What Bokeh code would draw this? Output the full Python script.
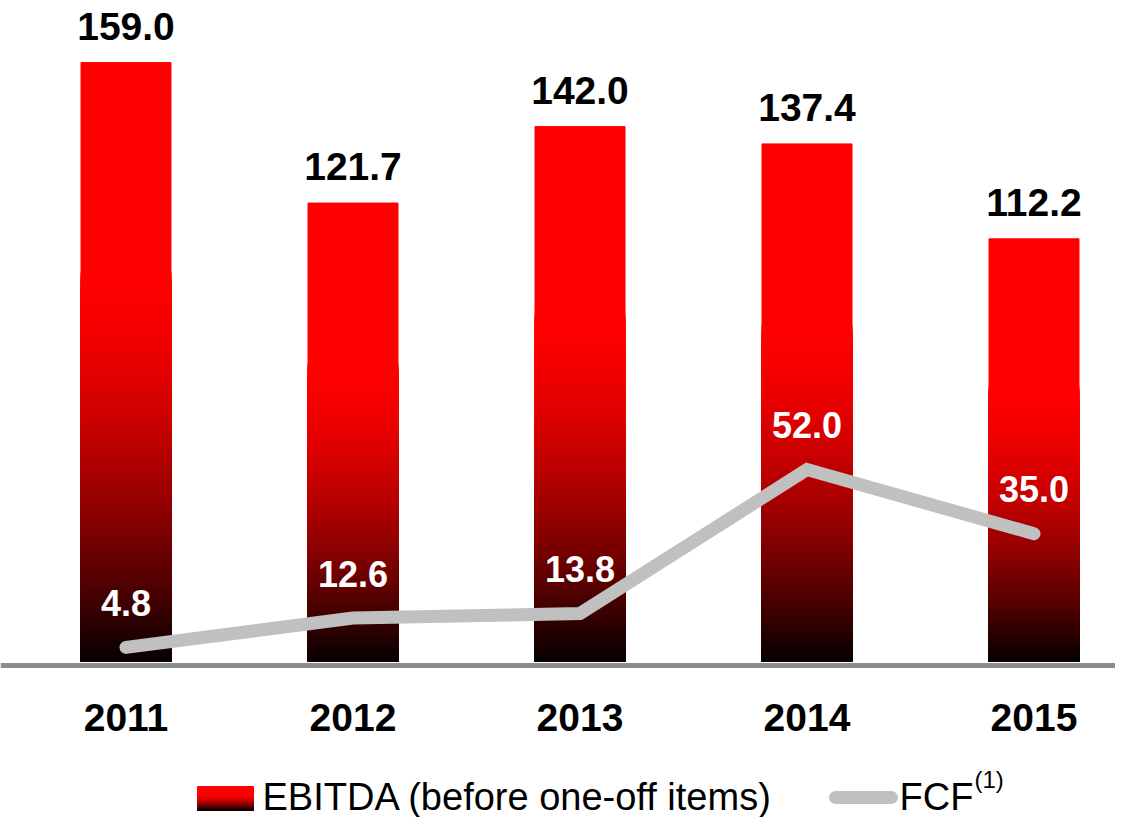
import numpy as np
from bokeh.plotting import figure
from bokeh.models import Range1d, LinearAxis, FixedTicker
from bokeh.core.properties import value
from bokeh.embed import file_html
from bokeh.resources import INLINE

# ---------------- data ----------------
years = ["2011", "2012", "2013", "2014", "2015"]
ebitda = [159.0, 121.7, 142.0, 137.4, 112.2]
fcf = [4.8, 12.6, 13.8, 52.0, 35.0]
legend_ebitda = "EBITDA (before one-off items)"
legend_fcf = "FCF"
legend_fcf_sup = "(1)"

# ---------------- layout ----------------
FONT = "Liberation Sans"
W, H = 1115, 817
PX_X = 227.0      # pixels per category step
PX_Y = 3.767      # pixels per unit
X0_PX = 125.5     # screen x of first category
Y0_PX = 661.0     # screen y of zero (bars)
Y0_FCF = 665.0    # screen y of zero (FCF line, on the axis line)
BAR_W = 90.0 / PX_X
GRAD = 0.65       # lower fraction of each bar carrying the gradient
N = 90
BASE_FIX = 0.37   # em shift compensating the renderer's alphabetic baseline

RED = np.array([255, 0, 0])
DARK = np.array([6, 0, 0])


def shade(t):
    f = 1.0 - (1.0 - t) ** 1.6
    c = DARK + (RED - DARK) * f
    return "#%02x%02x%02x" % tuple(int(round(v)) for v in c)


def sx(px):
    return (px - X0_PX) / PX_X


def sy(py):
    return (Y0_PX - py) / PX_Y


def sy_f(py):
    return (Y0_FCF - py) / PX_Y


p = figure(width=W, height=H, output_backend="svg", toolbar_location=None,
           x_range=Range1d(sx(0), sx(W)), y_range=Range1d(sy(H), sy(0)),
           x_axis_location=None, y_axis_location=None, min_border=0,
           background_fill_color="white", border_fill_color="white")
p.extra_y_ranges = {"fcf": Range1d(sy_f(H), sy_f(0))}
p.outline_line_color = None
p.grid.visible = False

xs = np.arange(len(years))

# bars with vertical gradient (stack of progressively shorter darker bars)
bx, btop, bcol = [], [], []
for i, v in enumerate(ebitda):
    bx.append(xs[i]); btop.append(v); bcol.append(shade(1.0))
for j in range(N):
    for i, v in enumerate(ebitda):
        bx.append(xs[i])
        btop.append(v * GRAD * (N - j) / N)
        bcol.append(shade((N - j - 0.5) / N))
p.vbar(x=bx, top=btop, bottom=0, width=BAR_W, fill_color=bcol,
       line_color=bcol, line_width=1)

# baseline axis with year labels
ax = LinearAxis(ticker=FixedTicker(ticks=list(xs)),
                major_label_overrides={int(i): y for i, y in zip(xs, years)})
ax.fixed_location = -1.0
ax.axis_line_color = "#8c8c8c"
ax.axis_line_width = 5
ax.major_tick_line_color = None
ax.minor_tick_line_color = None
ax.major_label_text_font = FONT
ax.major_label_text_font_size = "39px"
ax.major_label_text_font_style = "bold"
ax.major_label_text_color = "black"
ax.major_label_standoff = 33
p.add_layout(ax, "below")

# FCF line
p.line(xs, fcf, line_width=13, line_color="#c0c0c0", line_cap="round",
       line_join="miter", y_range_name="fcf")

# value labels
S1, S2 = 39, 36
p.text(x=xs, y=ebitda, text=["%.1f" % v for v in ebitda], text_align="center",
       text_baseline="alphabetic", y_offset=-(22 + BASE_FIX * S1), text_font=value(FONT),
       text_font_size="%dpx" % S1, text_font_style="bold", text_color="black")
p.text(x=xs, y=fcf, text=["%.1f" % v for v in fcf], text_align="center",
       text_baseline="alphabetic", y_offset=-(31 + BASE_FIX * S2), text_font=value(FONT),
       text_font_size="%dpx" % S2, text_font_style="bold", text_color="white",
       y_range_name="fcf")

# legend
SL = 38
LEG_BASE = 811
TXT_Y = LEG_BASE - BASE_FIX * SL
sw_l, sw_r, sw_t, sw_b = 197, 253, LEG_BASE - 25, LEG_BASE - 1
ql, qr, qb, qt, qc = [], [], [], [], []
ql.append(sx(sw_l)); qr.append(sx(sw_r)); qb.append(sy(sw_b)); qt.append(sy(sw_t)); qc.append(shade(1.0))
M = 20
for j in range(M):
    ql.append(sx(sw_l)); qr.append(sx(sw_r)); qb.append(sy(sw_b))
    qt.append(sy(sw_b - (sw_b - sw_t) * GRAD * (M - j) / M))
    qc.append(shade((M - j - 0.5) / M))
p.quad(left=ql, right=qr, bottom=qb, top=qt, fill_color=qc, line_color=qc, line_width=1)
p.text(x=[sx(262)], y=[sy(TXT_Y)], text=[legend_ebitda], text_align="left",
       text_baseline="alphabetic", text_font=value(FONT), text_font_size="%dpx" % SL,
       text_color="black")

p.line(x=[sx(835), sx(891)], y=[sy(LEG_BASE - 14)] * 2, line_width=13,
       line_color="#c0c0c0", line_cap="round")
p.text(x=[sx(899)], y=[sy(TXT_Y)], text=[legend_fcf], text_align="left",
       text_baseline="alphabetic", text_font=value(FONT), text_font_size="%dpx" % SL,
       text_color="black")
p.text(x=[sx(974)], y=[sy(LEG_BASE - 23 - BASE_FIX * 24)], text=[legend_fcf_sup],
       text_align="left", text_baseline="alphabetic", text_font=value(FONT),
       text_font_size="24px", text_color="black")

open("out.html", "w").write(file_html(p, INLINE))
